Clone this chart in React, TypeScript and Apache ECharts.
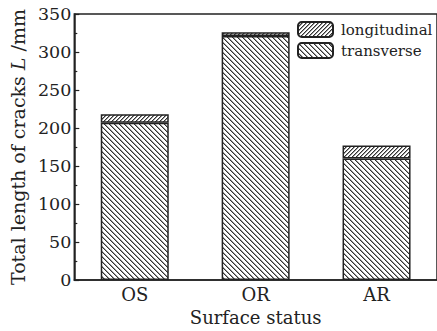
import React, { useEffect, useRef } from "react";
import * as echarts from "echarts";

const categories = ["OS", "OR", "AR"];
const transverse = [207, 321, 160];
const longitudinal = [11, 5, 17];
const yTicks = { min: 0, max: 350, interval: 50 };

const FONT = "DejaVu Serif";

function hatch(period: number, forward: boolean) {
  const c = document.createElement("canvas");
  c.width = period;
  c.height = period;
  const ctx = c.getContext("2d")!;
  ctx.fillStyle = "#ffffff";
  ctx.fillRect(0, 0, period, period);
  for (let y = 0; y < period; y++) {
    for (let x = 0; x < period; x++) {
      const k = forward ? (x + y) % period : (((x - y) % period) + period) % period;
      if (k === 0) {
        ctx.fillStyle = "#333333";
        ctx.fillRect(x, y, 1, 1);
      } else if (k === 1) {
        ctx.fillStyle = "#9a9a9a";
        ctx.fillRect(x, y, 1, 1);
      }
    }
  }
  return { image: c, repeat: "repeat" as const };
}

export default function App() {
  const ref = useRef<HTMLDivElement>(null);
  useEffect(() => {
    const chart = echarts.init(ref.current!, null, { renderer: "svg" });
    const transPattern = hatch(5, false);
    const longPattern = hatch(4, true);
    chart.setOption({
      animation: false,
      backgroundColor: "#ffffff",
      grid: { left: 69, top: 14, right: -6, bottom: 45, show: true, borderColor: "#222", borderWidth: 1.5, backgroundColor: "transparent" },
      legend: {
        data: ["longitudinal", "transverse"],
        orient: "vertical",
        left: 297,
        top: 21,
        itemWidth: 35,
        itemHeight: 15,
        itemGap: 4,
        textStyle: { fontFamily: FONT, fontSize: 15, color: "#222", padding: [0, 0, 0, 3] },
        padding: 0,
      },
      xAxis: {
        type: "category",
        data: categories,
        axisLine: { lineStyle: { color: "#222", width: 1.5 } },
        axisTick: { show: false },
        axisLabel: { fontFamily: FONT, fontSize: 18, color: "#222", margin: 5 },
        name: "Surface status",
        nameLocation: "middle",
        nameGap: 24,
        nameTextStyle: { fontFamily: FONT, fontSize: 18, color: "#222" },
      },
      yAxis: {
        type: "value",
        min: yTicks.min,
        max: yTicks.max,
        interval: yTicks.interval,
        axisLine: { show: true, lineStyle: { color: "#222", width: 1.5 } },
        axisTick: { show: true, inside: true, length: 5, lineStyle: { color: "#222", width: 1.2 } },
        minorTick: { show: true, splitNumber: 2, length: 3, lineStyle: { color: "#222", width: 1.2 } },
        splitLine: { show: false },
        axisLabel: { fontFamily: FONT, fontSize: 17.5, color: "#222", margin: 3 },
        name: "Total length of cracks {i|L} /mm",
        nameLocation: "middle",
        nameGap: 45,
        nameTextStyle: {
          fontFamily: FONT,
          fontSize: 19,
          color: "#222",
          rich: { i: { fontFamily: FONT, fontSize: 19, fontStyle: "italic", color: "#222" } },
        },
      },
      series: [
        {
          name: "transverse",
          type: "bar",
          stack: "total",
          data: transverse,
          barWidth: 68,
          itemStyle: { color: transPattern, borderColor: "#222", borderWidth: 1.5 },
        },
        {
          name: "longitudinal",
          type: "bar",
          stack: "total",
          data: longitudinal,
          barWidth: 68,
          itemStyle: { color: longPattern, borderColor: "#222", borderWidth: 1.5 },
        },
      ],
    });
    return () => chart.dispose();
  }, []);
  return <div ref={ref} style={{ width: 437, height: 331, position: "absolute", left: 0, top: 0 }} />;
}
